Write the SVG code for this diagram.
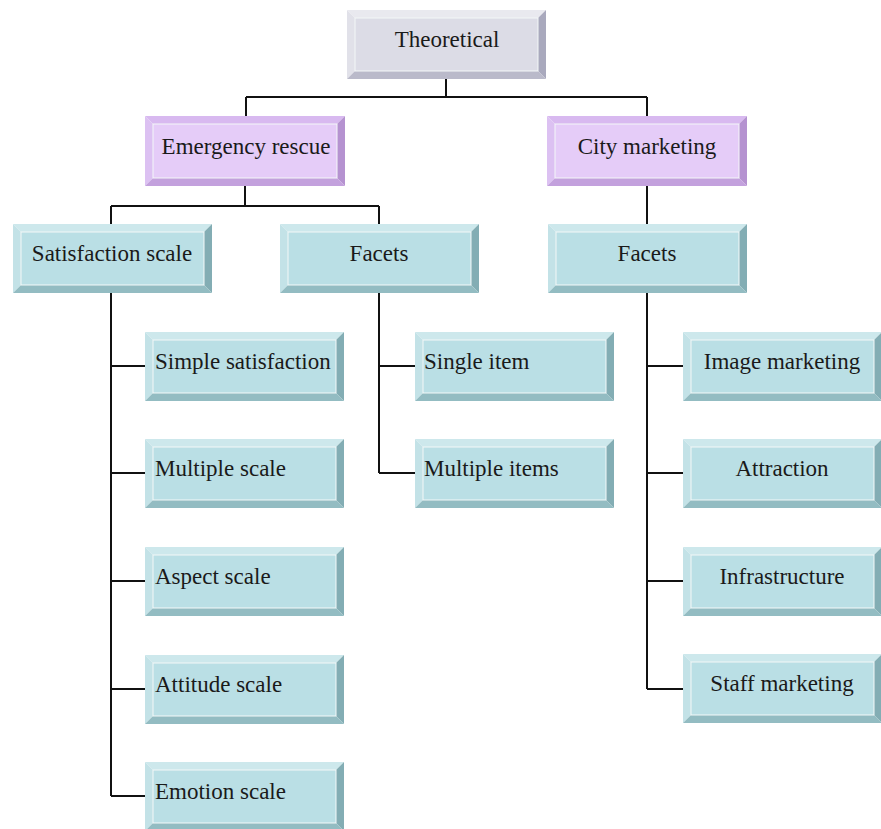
<svg xmlns="http://www.w3.org/2000/svg" xmlns:xlink="http://www.w3.org/1999/xlink" width="881" height="829" viewBox="0 0 881 829">
<style>
text{font-family:"Liberation Serif","Times New Roman",serif;font-size:23px;fill:#1a1a1a}
.c{text-anchor:middle}
.conn{stroke:#111;stroke-width:2;fill:none}
.face{stroke:#f4f8f8;stroke-width:1}
</style>
<defs>
<g id="grayBox">
<polygon points="0,0 199,0 191,8 8,8" fill="#e9e9ef"/>
<polygon points="0,0 8,8 8,61 0,69" fill="#e1e1e9"/>
<polygon points="199,0 199,69 191,61 191,8" fill="#a9a9bd"/>
<polygon points="0,69 199,69 191,61 8,61" fill="#babaca"/>
<rect class="face" x="8" y="8" width="183" height="53" fill="#dcdce6"/>
</g>
<g id="purpleBox">
<polygon points="0,0 200,0 192,8 8,8" fill="#d8b9f0"/>
<polygon points="0,0 8,8 8,62 0,70" fill="#dcc1f2"/>
<polygon points="200,0 200,70 192,62 192,8" fill="#b592d0"/>
<polygon points="0,70 200,70 192,62 8,62" fill="#c3a1dd"/>
<rect class="face" x="8" y="8" width="184" height="54" fill="#e5ccf8"/>
</g>
<g id="tealBox">
<polygon points="0,0 199,0 191,8 8,8" fill="#cde8ec"/>
<polygon points="0,0 8,8 8,61 0,69" fill="#c3e2e7"/>
<polygon points="199,0 199,69 191,61 191,8" fill="#83adb4"/>
<polygon points="0,69 199,69 191,61 8,61" fill="#93bcc2"/>
<rect class="face" x="8" y="8" width="183" height="53" fill="#badfe5"/>
</g>
</defs>
<rect width="881" height="829" fill="#ffffff"/>
<g id="connectors">
<path class="conn" d="M446,79 V97 M246,97 H647 M246,97 V116 M647,97 V116"/>
<path class="conn" d="M245,186 V206 M111,206 H379 M111,206 V224 M379,206 V224"/>
<path class="conn" d="M647,186 V224"/>
<path class="conn" d="M111,293 V796 M111,366 H145 M111,473 H145 M111,581 H145 M111,689 H145 M111,796 H145"/>
<path class="conn" d="M379,293 V473 M379,366 H415 M379,473 H415"/>
<path class="conn" d="M647,293 V689 M647,366 H683 M647,473 H683 M647,581 H683 M647,689 H683"/>
</g>
<g id="n-theoretical"><use xlink:href="#grayBox" x="347" y="10"/><text class="c" x="447" y="47">Theoretical</text></g>
<g id="n-emergency"><use xlink:href="#purpleBox" x="145" y="116"/><text class="c" x="246" y="154">Emergency rescue</text></g>
<g id="n-city"><use xlink:href="#purpleBox" x="547" y="116"/><text class="c" x="647" y="154">City marketing</text></g>
<g id="n-satisfaction"><use xlink:href="#tealBox" x="13" y="224"/><text class="c" x="112" y="261">Satisfaction scale</text></g>
<g id="n-facets1"><use xlink:href="#tealBox" x="280" y="224"/><text class="c" x="379" y="261">Facets</text></g>
<g id="n-facets2"><use xlink:href="#tealBox" x="548" y="224"/><text class="c" x="647" y="261">Facets</text></g>
<g id="n-simple"><use xlink:href="#tealBox" x="145" y="332"/><text x="155" y="369">Simple satisfaction</text></g>
<g id="n-multiple-scale"><use xlink:href="#tealBox" x="145" y="439"/><text x="155" y="476">Multiple scale</text></g>
<g id="n-aspect"><use xlink:href="#tealBox" x="145" y="547"/><text x="155" y="584">Aspect scale</text></g>
<g id="n-attitude"><use xlink:href="#tealBox" x="145" y="655"/><text x="155" y="692">Attitude scale</text></g>
<g id="n-emotion"><use xlink:href="#tealBox" x="145" y="762"/><text x="155" y="799">Emotion scale</text></g>
<g id="n-single"><use xlink:href="#tealBox" x="415" y="332"/><text x="424" y="369">Single item</text></g>
<g id="n-multiple-items"><use xlink:href="#tealBox" x="415" y="439"/><text x="424" y="476">Multiple items</text></g>
<g id="n-image"><use xlink:href="#tealBox" x="683" y="332"/><text class="c" x="782" y="369">Image marketing</text></g>
<g id="n-attraction"><use xlink:href="#tealBox" x="683" y="439"/><text class="c" x="782" y="476">Attraction</text></g>
<g id="n-infrastructure"><use xlink:href="#tealBox" x="683" y="547"/><text class="c" x="782" y="584">Infrastructure</text></g>
<g id="n-staff"><use xlink:href="#tealBox" x="683" y="654"/><text class="c" x="782" y="691">Staff marketing</text></g>
</svg>
